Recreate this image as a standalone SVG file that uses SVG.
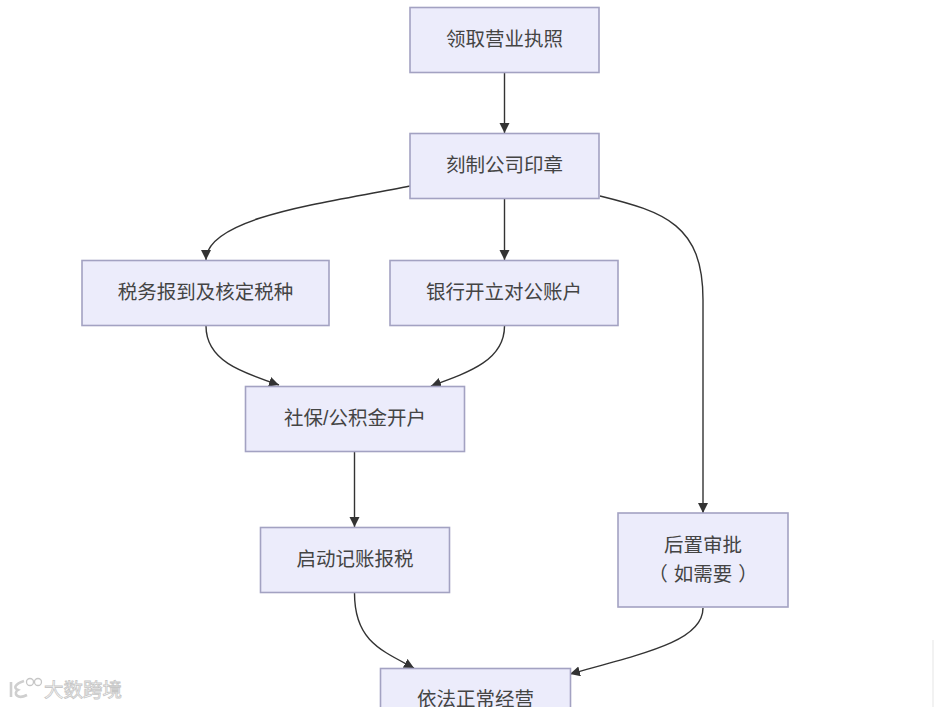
<svg xmlns="http://www.w3.org/2000/svg" width="934" height="707" viewBox="0 0 934 707">
<style>
text{font-family:"Liberation Sans","Noto Sans CJK SC",sans-serif;font-size:19.500px;fill:#444;text-anchor:middle}
.n rect{fill:#ececfb;stroke:#a3a2c2;stroke-width:1.600}
.c path{fill:none;stroke:#333;stroke-width:1.400;marker-end:url(#a)}
text.wm{font-size:19.500px;fill:#fff;stroke:#c6c6c6;stroke-width:.8;text-anchor:start}
</style>
<defs><marker id="a" markerUnits="userSpaceOnUse" markerWidth="11" markerHeight="11" refX="10" refY="5" orient="auto"><path d="M0 0L10 5L0 10Z" fill="#333"/></marker></defs>
<rect width="934" height="707" fill="#fff"/>
<path d="M933 640V707" stroke="#eee" stroke-width="1.500"/>
<g id="connectors" class="c">
<path d="M504.500 73V133"/>
<path d="M410 186C340 201 206 215 206 260"/>
<path d="M504.500 199V260"/>
<path d="M600 196C665 212 703 225 703 300V513"/>
<path d="M206 326C206 360 240 372 279 385"/>
<path d="M504.500 326C504.500 360 470 372 431 386"/>
<path d="M354.500 452V527"/>
<path d="M354.500 593C354.500 640 380 650 414 668"/>
<path d="M703 608C703 640 650 652 570 674"/>
</g>
<g id="n1" class="n"><rect x="410" y="7.500" width="189" height="65"/><text x="504.500" y="46">领取营业执照</text></g>
<g id="n2" class="n"><rect x="410" y="133.500" width="189" height="65"/><text x="504.500" y="172">刻制公司印章</text></g>
<g id="n3" class="n"><rect x="82" y="260.500" width="247" height="65"/><text x="205.500" y="299">税务报到及核定税种</text></g>
<g id="n4" class="n"><rect x="390" y="260.500" width="228" height="65"/><text x="504" y="299">银行开立对公账户</text></g>
<g id="n5" class="n"><rect x="245.500" y="386.500" width="219" height="65"/><text x="355" y="425">社保/公积金开户</text></g>
<g id="n6" class="n"><rect x="260.500" y="527.500" width="189" height="65"/><text x="355" y="566">启动记账报税</text></g>
<g id="n7" class="n"><rect x="618" y="513" width="170" height="94"/><text x="703" y="552">后置审批</text><text x="703" y="581">（<tspan dx="6">如需要</tspan><tspan dx="6">）</tspan></text></g>
<g id="n8" class="n"><rect x="380.500" y="668.500" width="190" height="65"/><text x="475.500" y="706">依法正常经营</text></g>
<g id="watermark">
<path d="M11 682V697M24 681C15 684 13 688 18 690C13 693 17 700 27 695" fill="none" stroke="#cfcfcf" stroke-width="2.600"/>
<circle cx="30" cy="682" r="3.500" fill="none" stroke="#c6c6c6" stroke-width="1.300"/>
<circle cx="38" cy="682" r="3.500" fill="none" stroke="#c6c6c6" stroke-width="1.300"/>
<text class="wm" x="44" y="697">大数跨境</text>
</g>
</svg>
